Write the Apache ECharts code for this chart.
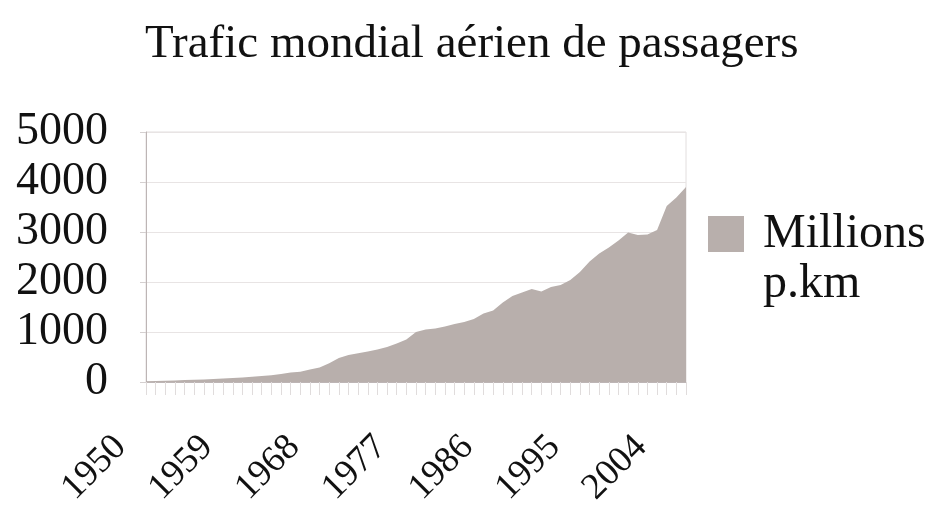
<!DOCTYPE html>
<html>
<head>
<meta charset="utf-8">
<script src="https://cdn.jsdelivr.net/npm/echarts@6/dist/echarts.min.js"></script>
<style>
  html, body { margin: 0; padding: 0; background: #fff; }
  #main { width: 931px; height: 525px; }
</style>
</head>
<body>
<div id="main"></div>
<script>
// années 1950 -> 2006
var years = [];
for (var y = 1950; y <= 2006; y++) years.push(String(y));

// trafic (millions p.km)
var trafic = [
  15, 20, 25, 32, 38, 45, 52, 60, 70, 80,
  90, 105, 120, 137, 160, 190, 205, 250, 290, 375,
  480, 540, 575, 610, 650, 700, 770, 850, 1000, 1050,
  1070, 1110, 1160, 1200, 1260, 1370, 1430, 1590, 1720, 1790,
  1860, 1810, 1900, 1940, 2040, 2200, 2410, 2570, 2690, 2830,
  2990, 2940, 2950, 3040, 3520, 3690, 3900
];

var serif = "'Liberation Serif', 'DejaVu Serif', serif";

var myChart = echarts.init(document.getElementById("main"));

var option = {
  title: {
    text: "Trafic mondial aérien de passagers",
    left: 140,
    top: 16,
    textStyle: { fontFamily: serif, fontSize: 47, fontWeight: "normal", color: "#111" }
  },
  legend: {
    data: ["Millions\np.km"],
    orient: "vertical",
    left: 703,
    top: 154,
    icon: "rect",
    itemWidth: 36,
    itemHeight: 36,
    formatter: function (name) { return "\n" + name; },
    textStyle: {
      fontFamily: serif,
      fontSize: 48,
      color: "#111",
      lineHeight: 50,
      padding: [0, 0, 0, 14]
    }
  },
  grid: {
    left: 146,
    right: 245,
    top: 132,
    bottom: 143,
    show: true,
    borderColor: "#e2dede",
    borderWidth: 1
  },
  xAxis: {
    type: "category",
    boundaryGap: false,
    data: years,
    axisLine: { lineStyle: { color: "#bdb5b5", width: 1 } },
    axisTick: { show: true, interval: 0, length: 13, lineStyle: { color: "#e0dcdc" } },
    axisLabel: {
      interval: 8,
      rotate: 45,
      margin: 34,
      padding: [0, 36, 0, 0],
      fontFamily: serif,
      fontSize: 37,
      color: "#111"
    }
  },
  yAxis: {
    type: "value",
    min: 0,
    max: 5000,
    interval: 1000,
    axisLine: { show: true, lineStyle: { color: "#bdb5b5" } },
    axisTick: { show: true, length: 6, lineStyle: { color: "#d5d0d0" } },
    splitLine: { lineStyle: { color: "#e8e4e4" } },
    axisLabel: {
      margin: 38,
      fontFamily: serif,
      fontSize: 46,
      color: "#111",
      formatter: function (v) { return String(v); }
    }
  },
  series: [
    {
      name: "Millions\np.km",
      type: "line",
      data: trafic,
      symbol: "none",
      lineStyle: { width: 0 },
      itemStyle: { color: "#b8afac" },
      areaStyle: { color: "#b8afac", opacity: 1 }
    }
  ]
};

myChart.setOption(option);
</script>
</body>
</html>
